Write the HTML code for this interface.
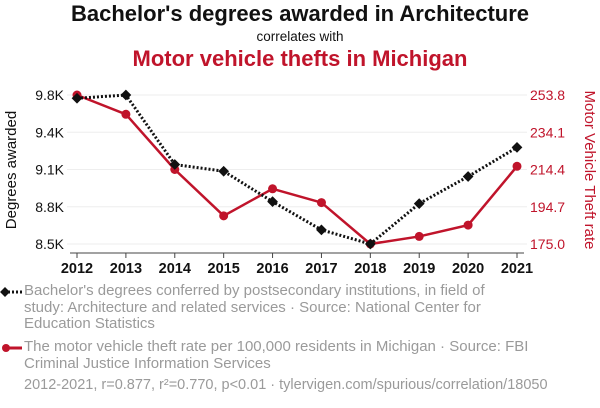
<!DOCTYPE html>
<html><head><meta charset="utf-8"><style>
body{margin:0;width:600px;height:408px;background:#fff;font-family:"Liberation Sans",Arial,sans-serif;overflow:hidden;position:relative}
.t{position:absolute;left:0;width:600px;text-align:center}
.leg{position:absolute;left:24px;width:576px;color:#9a9a9a;font-size:15px;line-height:16.5px;white-space:nowrap}
</style></head><body>
<div class="t" style="top:1px;font-size:22px;font-weight:bold;color:#111">Bachelor's degrees awarded in Architecture</div>
<div class="t" style="top:29px;font-size:13.5px;color:#111">correlates with</div>
<div class="t" style="top:46px;font-size:22px;font-weight:bold;color:#c0142b">Motor vehicle thefts in Michigan</div>
<svg id="chart" width="600" height="280" style="position:absolute;left:0;top:0"></svg>
<div class="leg" style="top:283px">Bachelor's degrees conferred by postsecondary institutions, in field of<br>study: Architecture and related services · Source: National Center for<br>Education Statistics</div>
<div class="leg" style="top:339px">The motor vehicle theft rate per 100,000 residents in Michigan · Source: FBI<br>Criminal Justice Information Services</div>
<div class="leg" style="top:377px;font-size:14.5px">2012-2021, r=0.877, r²=0.770, p&lt;0.01 · tylervigen.com/spurious/correlation/18050</div>
<svg width="24" height="100" style="position:absolute;left:0;top:280px">
<line x1="4" y1="12" x2="22" y2="12" stroke="#111" stroke-width="3" stroke-dasharray="2,2"/>
<rect x="1.5" y="8.5" width="7" height="7" transform="rotate(45 5 12)" fill="#111"/>
<line x1="4" y1="68" x2="22" y2="68" stroke="#c0142b" stroke-width="3"/>
<circle cx="6" cy="68" r="4" fill="#c0142b"/>
</svg>
<script>
const years=[2012,2013,2014,2015,2016,2017,2018,2019,2020,2021];
const degrees=[9784,9813,9199,9140,8871,8622,8497,8854,9093,9350];
const thefts=[253.8,243.6,214.4,189.9,204.2,196.9,175.0,179.0,185.0,216.1];
const leftTicks=["8.5K","8.8K","9.1K","9.4K","9.8K"];
const rightTicks=["175.0","194.7","214.4","234.1","253.8"];
const lMin=8497,lMax=9813,rMin=175.0,rMax=253.8;
const X0=77,X1=517,Y0=244,Y1=95;
const sx=y=>X0+(y-years[0])/(years[years.length-1]-years[0])*(X1-X0);
const sl=v=>Y0-(v-lMin)/(lMax-lMin)*(Y0-Y1);
const sr=v=>Y0-(v-rMin)/(rMax-rMin)*(Y0-Y1);
const svg=document.getElementById('chart');const NS='http://www.w3.org/2000/svg';
function mk(t,a,txt){const e=document.createElementNS(NS,t);for(const k in a)e.setAttribute(k,a[k]);if(txt!=null)e.textContent=txt;svg.appendChild(e);return e;}
leftTicks.forEach((l,i)=>{const y=Y0-i*(Y0-Y1)/4;
const g=mk('line',{x1:X0-10,x2:X1+10,y1:y,y2:y,stroke:'#eee'});


const a=mk('text',{x:64,y:y+5,'text-anchor':'end','font-size':14,fill:'#111'},l);


const b=mk('text',{x:530,y:y+5,'font-size':14,fill:'#c0142b'},rightTicks[i]);

});
const ax=mk('line',{x1:X0-7,x2:X1+7,y1:Y0+9,y2:Y0+9,stroke:'#444'});


years.forEach(yr=>{const x=sx(yr);
const tk=mk('line',{x1:x,x2:x,y1:Y0+9,y2:Y0+14,stroke:'#444'});


const t=mk('text',{x:x,y:Y0+29,'text-anchor':'middle','font-size':14.5,'font-weight':'bold',fill:'#111'},yr);

});
const lt=mk('text',{transform:'translate(16,170) rotate(-90)','text-anchor':'middle','font-size':15,fill:'#111'},'Degrees awarded');


const rt=mk('text',{transform:'translate(585,170) rotate(90)','text-anchor':'middle','font-size':15,fill:'#c0142b'},'Motor Vehicle Theft rate');


const rl=mk('polyline',{points:years.map((y,i)=>sx(y)+','+sr(thefts[i])).join(' '),fill:'none',stroke:'#c0142b','stroke-width':2.5});


years.forEach((y,i)=>{const c=mk('circle',{cx:sx(y),cy:sr(thefts[i]),r:4.5,fill:'#c0142b'});

});
const bl=mk('polyline',{points:years.map((y,i)=>sx(y)+','+sl(degrees[i])).join(' '),fill:'none',stroke:'#111','stroke-width':3,'stroke-dasharray':'2,2'});


years.forEach((y,i)=>{const x=sx(y),yy=sl(degrees[i]);
const d=mk('rect',{x:x-3.8,y:yy-3.8,width:7.6,height:7.6,fill:'#111',transform:`rotate(45 ${x} ${yy})`});

});
</script>
</body></html>
